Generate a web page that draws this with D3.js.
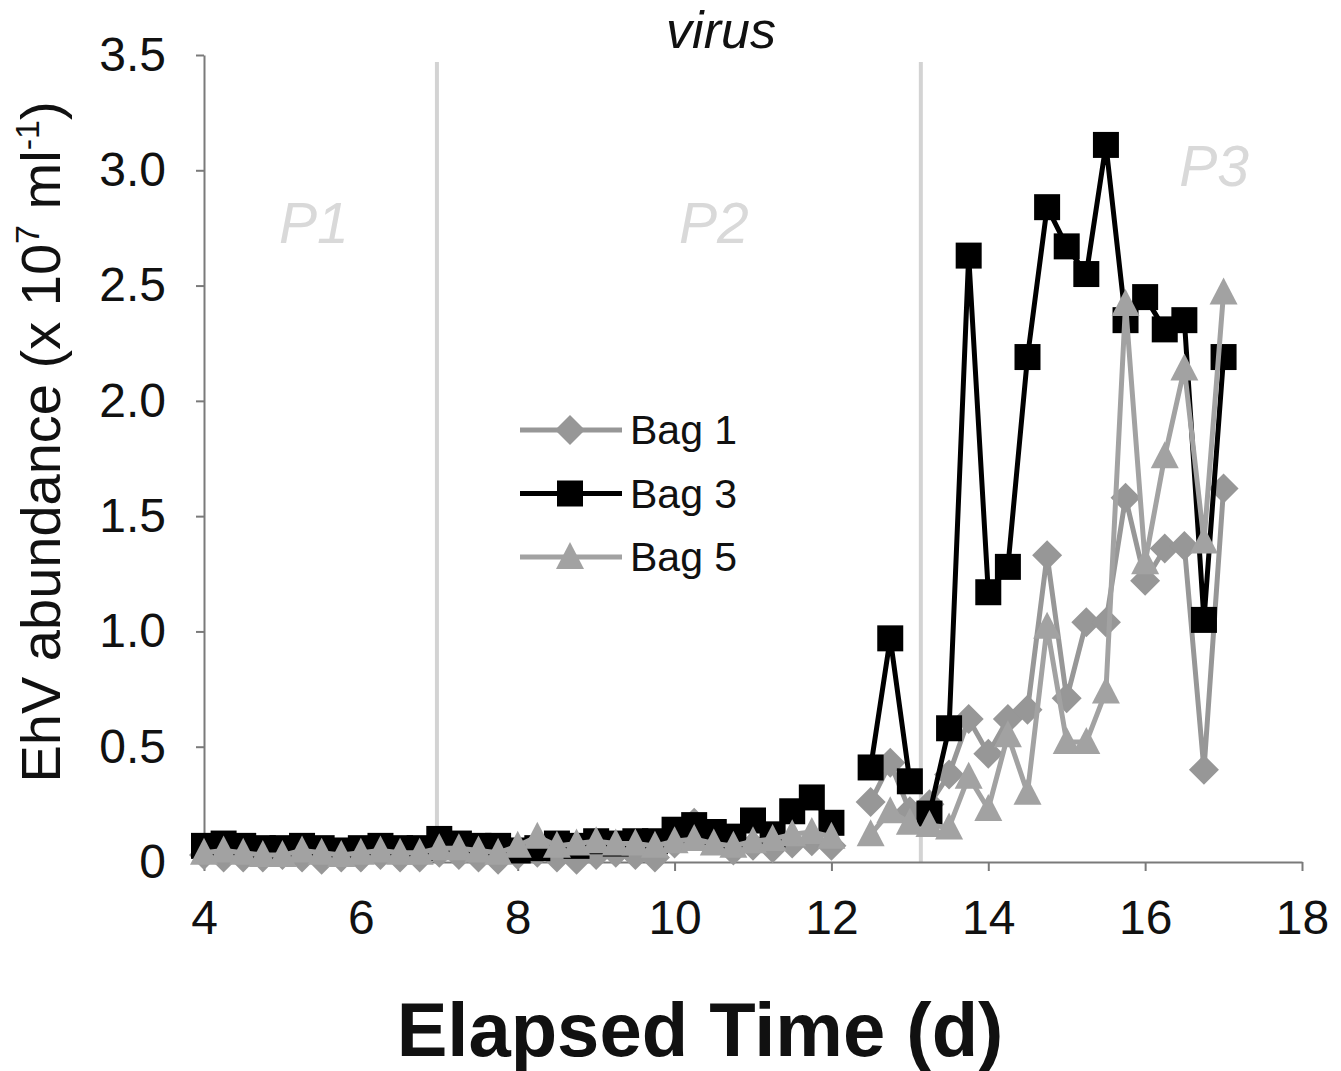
<!DOCTYPE html>
<meta charset="utf-8">
<script src="https://d3js.org/d3.v7.min.js"></script>
<style>
  body { margin: 0; background: #fff; }
  text { font-family: "Liberation Sans", Arial, sans-serif; }
</style>
<svg></svg>

<script>

    // sampling times (d); null entries mark breaks in the lines
    const times = [4, 4.25, 4.5, 4.75, 5, 5.25, 5.5, 5.75, 6, 6.25, 6.5, 6.75,
        7, 7.25, 7.5, 7.75, 8, 8.25, 8.5, 8.75, 9, 9.25, 9.5, 9.75,
        10, 10.25, 10.5, 10.75, 11, 11.25, 11.5, 11.75, 12, 12.25,
        12.5, 12.75, 13, 13.125,
        13.25, 13.5, 13.75, 14, 14.25, 14.5, 14.75, 15, 15.25, 15.5, 15.75,
        16, 16.25, 16.5, 16.75, 17];

    const bag1 = [0.03, 0.02, 0.02, 0.02, 0.03, 0.02, 0.01, 0.02, 0.02, 0.03, 0.02, 0.02,
        0.04, 0.03, 0.02, 0.01, 0.03, 0.04, 0.02, 0.01, 0.03, 0.04, 0.03, 0.02,
        0.08, 0.17, 0.10, 0.05, 0.07, 0.06, 0.08, 0.09, 0.07, null,
        0.26, 0.43, 0.22, null,
        0.25, 0.38, 0.62, 0.47, 0.62, 0.66, 1.33, 0.71, 1.04, 1.04, 1.58,
        1.22, 1.36, 1.37, 0.40, 1.62];

    const bag3 = [0.07, 0.08, 0.07, 0.06, 0.06, 0.07, 0.06, 0.05, 0.06, 0.07, 0.06, 0.06,
        0.10, 0.08, 0.07, 0.07, 0.05, 0.06, 0.08, 0.07, 0.09, 0.08, 0.09, 0.09,
        0.14, 0.16, 0.13, 0.11, 0.18, 0.12, 0.22, 0.28, 0.17, null,
        0.41, 0.97, 0.35, null,
        0.21, 0.58, 2.63, 1.17, 1.28, 2.19, 2.84, 2.67, 2.55, 3.11, 2.35,
        2.45, 2.31, 2.35, 1.05, 2.19];

    const bag5 = [0.04, 0.05, 0.04, 0.03, 0.03, 0.05, 0.04, 0.03, 0.04, 0.05, 0.04, 0.04,
        0.06, 0.06, 0.05, 0.04, 0.07, 0.11, 0.07, 0.08, 0.09, 0.08, 0.08, 0.07,
        0.09, 0.10, 0.08, 0.07, 0.09, 0.10, 0.12, 0.13, 0.11, null,
        0.12, 0.22, 0.17, null,
        0.16, 0.15, 0.37, 0.23, 0.55, 0.30, 1.02, 0.52, 0.52, 0.74, 2.42,
        1.30, 1.76, 2.14, 1.39, 2.47];

    const seriesNames = ["Bag 1", "Bag 3", "Bag 5"];
    const xTicks = [4, 6, 8, 10, 12, 14, 16, 18];
    const yTicks = [0, 0.5, 1.0, 1.5, 2.0, 2.5, 3.0, 3.5];
    const phaseBounds = [6.97, 13.14];
    const phaseLabels = [
        {label: "P1", t: 5.4, v: 2.77},
        {label: "P2", t: 10.5, v: 2.77},
        {label: "P3", t: 16.88, v: 3.02}
    ];

    const W = 1341, H = 1071;
    const margin = {top: 55, right: 39, bottom: 209, left: 204};
    const width = W - margin.left - margin.right;
    const height = H - margin.top - margin.bottom;

    const svg = d3.select("svg")
        .attr("width", W)
        .attr("height", H)
        .append("g")
        .attr("transform", `translate(${margin.left}, ${margin.top})`);

    const x = d3.scaleLinear().domain([4, 18]).range([0, width]);
    const y = d3.scaleLinear().domain([0, 3.5]).range([height, 0]);

    // phase boundaries
    svg.selectAll(".phase")
        .data(phaseBounds)
        .join("line")
        .attr("x1", d => x(d)).attr("x2", d => x(d))
        .attr("y1", y(3.47)).attr("y2", y(0))
        .attr("stroke", "#d3d3d3")
        .attr("stroke-width", 4);

    svg.selectAll(".plabel")
        .data(phaseLabels)
        .join("text")
        .attr("x", d => x(d.t))
        .attr("y", d => y(d.v))
        .attr("dy", "0.35em")
        .attr("text-anchor", "middle")
        .attr("font-style", "italic")
        .attr("font-size", 57)
        .attr("fill", "#d9d9d9")
        .text(d => d.label);

    // axes
    const xAxis = svg.append("g")
        .attr("transform", `translate(0, ${height})`)
        .call(d3.axisBottom(x).tickValues(xTicks).tickSize(9).tickPadding(29).tickSizeOuter(0));
    const yAxis = svg.append("g")
        .call(d3.axisLeft(y).tickValues(yTicks).tickSize(8).tickPadding(30).tickSizeOuter(0)
            .tickFormat(d => d === 0 ? "0" : d.toFixed(1)));
    [xAxis, yAxis].forEach(a => {
        a.select(".domain").attr("stroke", "#7a7a7a").attr("stroke-width", 2);
        a.selectAll(".tick line").attr("stroke", "#7a7a7a").attr("stroke-width", 2);
        a.selectAll(".tick text")
            .attr("font-size", 48)
            .attr("fill", "#111")
            .style("font-family", "'Liberation Sans', Arial, sans-serif");
    });

    // marker shapes
    const marker = {
        diamond: "M0,-15L15,0L0,15L-15,0Z",
        square: "M-13,-13H13V13H-13Z",
        triangle: "M0,-15L14,12H-14Z"
    };

    const series = [
        {name: seriesNames[0], values: bag1, color: "#979797", shape: "diamond"},
        {name: seriesNames[1], values: bag3, color: "#000000", shape: "square"},
        {name: seriesNames[2], values: bag5, color: "#a2a2a2", shape: "triangle"}
    ];

    const line = d3.line()
        .defined(d => d.v != null)
        .x(d => x(d.t))
        .y(d => y(d.v));

    series.forEach(s => {
        const pts = times.map((t, i) => ({t: t, v: s.values[i]}));
        const g = svg.append("g");
        g.append("path")
            .datum(pts)
            .attr("fill", "none")
            .attr("stroke", s.color)
            .attr("stroke-width", 5)
            .attr("stroke-linejoin", "round")
            .attr("d", line);
        g.selectAll("path.m")
            .data(pts.filter(d => d.v != null))
            .join("path")
            .attr("class", "m")
            .attr("transform", d => `translate(${x(d.t)}, ${y(d.v)})`)
            .attr("d", marker[s.shape])
            .attr("fill", s.color);
    });

    // legend
    const legend = svg.append("g")
        .attr("transform", `translate(${520 - margin.left}, ${430 - margin.top})`);
    series.forEach((s, i) => {
        const row = legend.append("g").attr("transform", `translate(0, ${i * 63.5})`);
        row.append("line")
            .attr("x1", 0).attr("x2", 102)
            .attr("stroke", s.color).attr("stroke-width", 5);
        row.append("path")
            .attr("transform", "translate(50, 0)")
            .attr("d", marker[s.shape])
            .attr("fill", s.color);
        row.append("text")
            .attr("x", 110)
            .attr("dy", "0.35em")
            .attr("font-size", 41)
            .attr("fill", "#111")
            .text(s.name);
    });

    // titles
    svg.append("text")
        .attr("x", 721 - margin.left)
        .attr("y", 48 - margin.top)
        .attr("text-anchor", "middle")
        .attr("font-style", "italic")
        .attr("font-size", 52)
        .attr("fill", "#111")
        .text("virus");

    svg.append("text")
        .attr("x", 700 - margin.left)
        .attr("y", 1056 - margin.top)
        .attr("text-anchor", "middle")
        .attr("font-weight", "bold")
        .attr("font-size", 76)
        .attr("fill", "#111")
        .text("Elapsed Time (d)");

    const yt = svg.append("text")
        .attr("transform", "rotate(-90)")
        .attr("x", -(442 - margin.top))
        .attr("y", 60 - margin.left)
        .attr("text-anchor", "middle")
        .attr("font-size", 56)
        .attr("fill", "#111");
    yt.append("tspan").text("EhV abundance (x 10");
    yt.append("tspan").attr("font-size", 34).attr("dy", -21).text("7");
    yt.append("tspan").attr("dy", 21).text(" ml");
    yt.append("tspan").attr("font-size", 34).attr("dy", -21).text("-1");
    yt.append("tspan").attr("dy", 21).text(")");
</script>
